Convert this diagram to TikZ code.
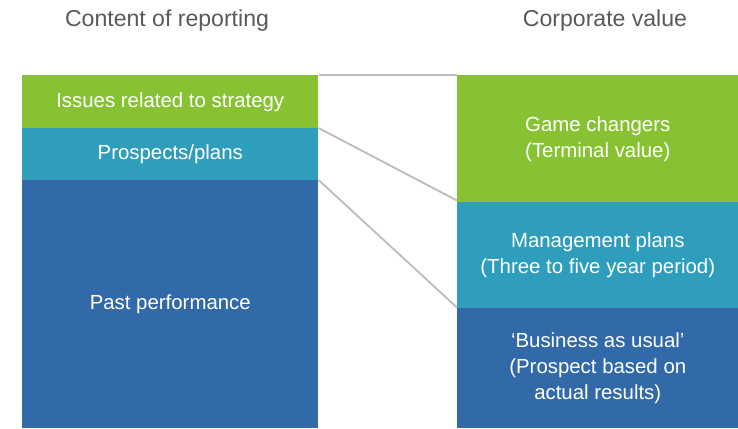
\documentclass[tikz,border=0pt]{standalone}
\usepackage{fontspec}
\setmainfont{Liberation Sans}
\definecolor{strategygreen}{HTML}{86C232}
\definecolor{planteal}{HTML}{2F9EBD}
\definecolor{pastblue}{HTML}{3269A9}
\definecolor{titlegray}{HTML}{595959}
\definecolor{linkgray}{HTML}{BDBDBD}
\tikzset{
    block/.style={anchor=north west, inner sep=0pt, align=center, text=white,
        font=\fontsize{15.3}{19.5}\selectfont},
    leftblock/.style={block, minimum width=222pt},
    rightblock/.style={block, minimum width=210.75pt},
    heading/.style={text=titlegray, font=\fontsize{17.3}{20}\selectfont},
    link/.style={draw=linkgray, line width=1.4pt}
}
\begin{document}
\begin{tikzpicture}[x=0.75pt,y=-0.75pt]
    \useasboundingbox (0,0) rectangle (738,428);
    \node[heading] (lefthead) at (167,21) {Content of reporting};
    \node[heading] (righthead) at (605,21) {Corporate value};
    \node[leftblock, fill=strategygreen, minimum height=39.75pt] (strat) at (22,75) {Issues related to strategy};
    \node[leftblock, fill=planteal, minimum height=39pt] (prosp) at (22,128) {Prospects/plans};
    \node[leftblock, fill=pastblue, minimum height=186pt] (past) at (22,180) {Past performance};
    \node[rightblock, fill=strategygreen, minimum height=95.25pt] (game) at (457,75) {Game changers\\(Terminal value)};
    \node[rightblock, fill=planteal, minimum height=79.5pt] (mgmt) at (457,202) {Management plans\\(Three to five year period)};
    \node[rightblock, fill=pastblue, minimum height=90pt] (bau) at (457,308) {`Business as usual'\\(Prospect based on\\actual results)};
    \draw[link] (strat.north east) -- (game.north west);
    \draw[link] (prosp.north east) -- ([yshift=1.5pt]game.south west);
    \draw[link] (past.north east) -- ([yshift=0.75pt]mgmt.south west);
\end{tikzpicture}
\end{document}
